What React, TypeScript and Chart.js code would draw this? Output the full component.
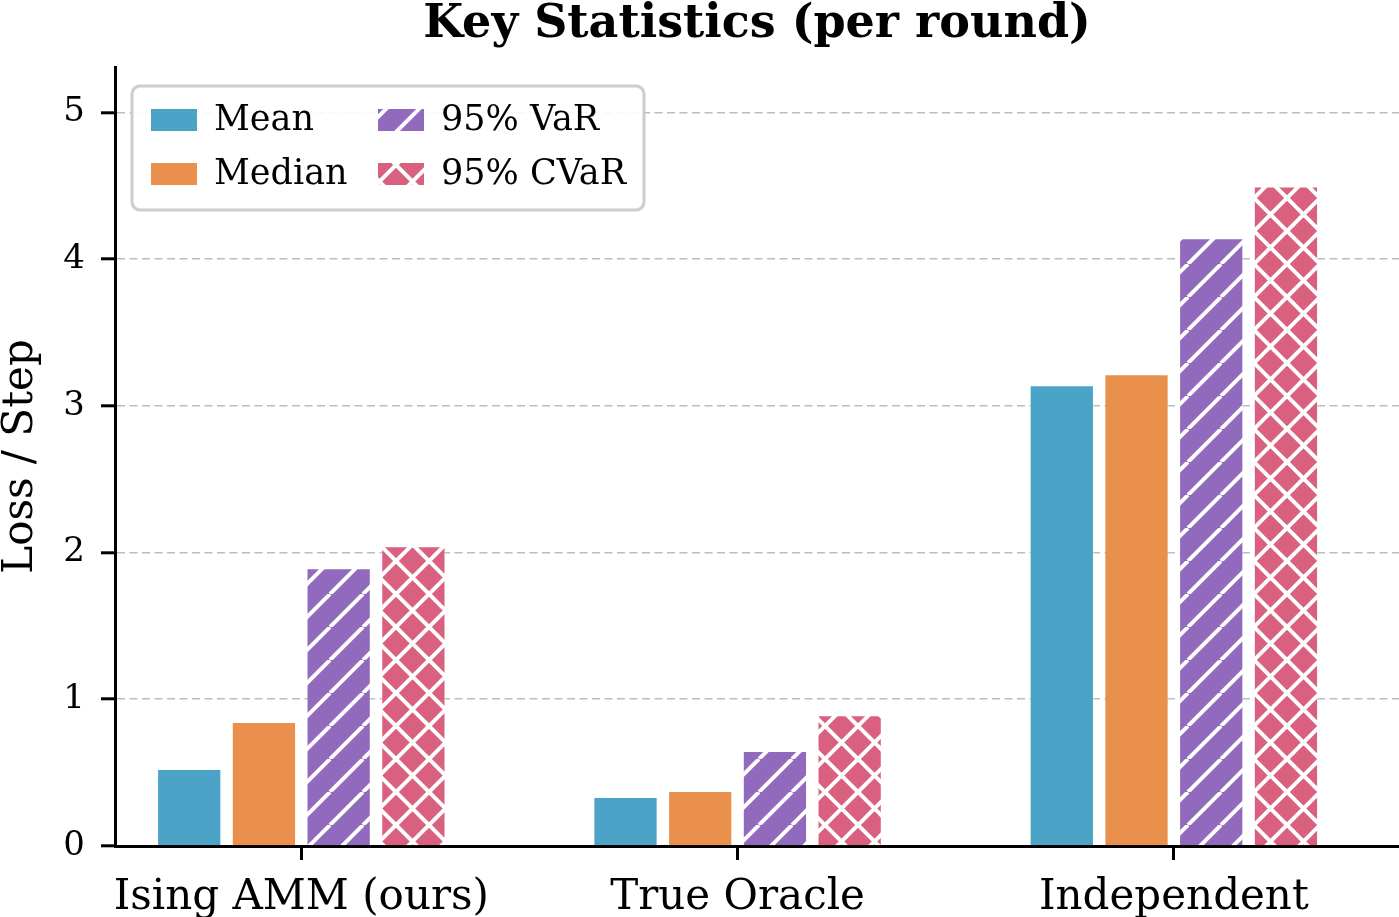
import React, { useEffect, useRef } from "react";
import { Chart, registerables } from "chart.js";

Chart.register(...registerables);

// Category names and per-round loss statistics
const categories = ["Ising AMM (ours)", "True Oracle", "Independent"];
const meanValues = [0.525, 0.334, 3.14];
const medianValues = [0.845, 0.375, 3.215];
const varValues = [1.894, 0.647, 4.142];
const cvarValues = [2.044, 0.892, 4.496];
const yTickValues = [0, 1, 2, 3, 4, 5];

const seriesLabels = ["Mean", "Median", "95% VaR", "95% CVaR"];
const seriesColors = ["#4ba3c7", "#e8904c", "#9169bd", "#d9607f"];

const FONT = "'DejaVu Serif', serif";

type Hatch = "none" | "diag" | "cross";

// Solid colour, or a repeating tile with white hatch strokes
function makeFill(color: string, hatch: Hatch): string | CanvasPattern {
  if (hatch === "none") return color;
  const s = 33;
  const tile = document.createElement("canvas");
  tile.width = s;
  tile.height = s;
  const c = tile.getContext("2d")!;
  c.fillStyle = color;
  c.fillRect(0, 0, s, s);
  c.strokeStyle = "#ffffff";
  c.lineWidth = 4;
  c.beginPath();
  for (const k of [-s, 0, s]) {
    c.moveTo(k, s);
    c.lineTo(k + s, 0);
    if (hatch === "cross") {
      c.moveTo(k, 0);
      c.lineTo(k + s, s);
    }
  }
  c.stroke();
  const ctx = document.createElement("canvas").getContext("2d")!;
  return ctx.createPattern(tile, "repeat")!;
}

const titlePlugin = {
  id: "plotTitle",
  afterDraw(chart: Chart) {
    const { ctx, chartArea } = chart;
    ctx.save();
    ctx.font = `bold 46px ${FONT}`;
    ctx.fillStyle = "#000";
    ctx.textAlign = "center";
    ctx.textBaseline = "alphabetic";
    ctx.fillText("Key Statistics (per round)", (chartArea.left + chartArea.right) / 2, 37);
    ctx.restore();
  },
};

// Two-column legend in a rounded frame, upper left of the plot
const boxLegendPlugin = {
  id: "boxLegend",
  afterDatasetsDraw(chart: Chart) {
    const { ctx } = chart;
    const datasets = chart.data.datasets;
    ctx.save();
    ctx.beginPath();
    (ctx as any).roundRect(132, 86, 512, 124, 8);
    ctx.fillStyle = "rgba(255,255,255,0.9)";
    ctx.fill();
    ctx.lineWidth = 3;
    ctx.strokeStyle = "#cccccc";
    ctx.stroke();

    const colX = [151, 378];
    const rowY = [120, 174];
    ctx.font = `35px ${FONT}`;
    ctx.textBaseline = "middle";
    ctx.textAlign = "left";
    datasets.forEach((ds, i) => {
      const col = Math.floor(i / 2);
      const row = i % 2;
      const x = colX[col];
      const y = rowY[row];
      ctx.fillStyle = ds.backgroundColor as any;
      ctx.fillRect(x, y - 11, 46, 22);
      ctx.fillStyle = "#000";
      ctx.fillText(String(ds.label), x + 63, y + 1);
    });
    ctx.restore();
  },
};

export default function App() {
  const canvasRef = useRef<HTMLCanvasElement | null>(null);

  useEffect(() => {
    const canvas = canvasRef.current;
    if (!canvas) return;
    const hatches: Hatch[] = ["none", "none", "diag", "cross"];
    const values = [meanValues, medianValues, varValues, cvarValues];

    const chart = new Chart(canvas, {
      type: "bar",
      data: {
        datasets: values.map((vals, i) => ({
          label: seriesLabels[i],
          data: vals.map((v, j) => ({ x: j, y: v })),
          backgroundColor: makeFill(seriesColors[i], hatches[i]) as any,
          borderColor: "rgba(255,255,255,0.55)",
          borderWidth: 1,
          categoryPercentage: 0.685,
          barPercentage: 0.86,
        })),
      },
      plugins: [titlePlugin, boxLegendPlugin],
      options: {
        animation: false,
        responsive: false,
        devicePixelRatio: 1,
        layout: { padding: { top: 67, left: 0, right: 0, bottom: 0 } },
        plugins: {
          legend: { display: false },
          title: { display: false },
          tooltip: { enabled: false },
        },
        scales: {
          x: {
            type: "linear",
            offset: false,
            min: -0.427,
            max: 2.516,
            afterFit(scale: any) {
              scale.height = 71;
            },
            afterBuildTicks(scale: any) {
              scale.ticks = categories.map((_, i) => ({ value: i }));
            },
            ticks: {
              autoSkip: false,
              maxRotation: 0,
              padding: 13,
              color: "#000",
              font: { family: FONT, size: 42 },
              callback: (v: any) => categories[Number(v)] ?? "",
            },
            grid: {
              offset: false,
              drawOnChartArea: false,
              drawTicks: true,
              tickLength: 14,
              tickWidth: 3,
              tickColor: "#000",
            },
            border: { display: true, color: "#000", width: 3 },
          },
          y: {
            type: "linear",
            min: 0,
            max: 5.31,
            afterFit(scale: any) {
              scale.width = 115;
            },
            afterBuildTicks(scale: any) {
              scale.ticks = yTickValues.map((v) => ({ value: v }));
            },
            ticks: {
              padding: 16,
              color: "#000",
              font: { family: FONT, size: 34 },
            },
            grid: {
              color: (c: any) => (c.tick && c.tick.value === 0 ? "rgba(0,0,0,0)" : "#bdbdbd"),
              lineWidth: 1.6,
              drawTicks: true,
              tickLength: 14,
              tickWidth: 3,
              tickColor: "#000",
              tickBorderDash: [],
            },
            border: { display: true, color: "#000", width: 3, dash: [8, 4.5] },
            title: {
              display: true,
              text: "Loss / Step",
              color: "#000",
              font: { family: FONT, size: 42 },
              padding: { top: -4, bottom: 0 },
            },
          },
        },
      },
    } as any);

    return () => chart.destroy();
  }, []);

  return (
    <div style={{ position: "fixed", left: 0, top: 0, width: 1399, height: 917, background: "#fff" }}>
      <canvas ref={canvasRef} width={1399} height={917} style={{ display: "block" }} />
    </div>
  );
}
